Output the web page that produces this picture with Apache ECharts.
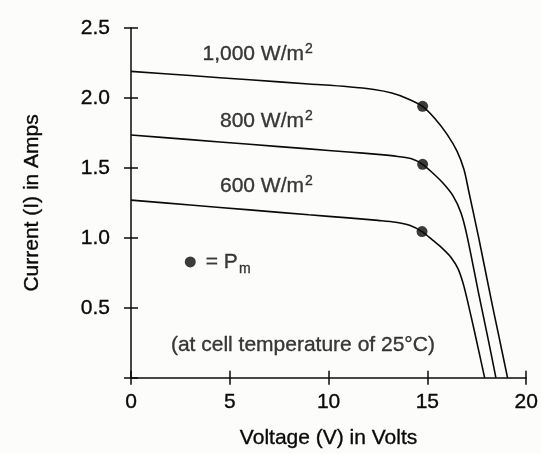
<!DOCTYPE html>
<html>
<head>
<meta charset="utf-8">
<script src="https://cdn.jsdelivr.net/npm/echarts@6/dist/echarts.min.js"></script>
<style>
html,body{margin:0;padding:0;background:#fcfcfb;}
#chart{width:541px;height:454px;}
</style>
</head>
<body>
<div id="chart"></div>
<script>
// ---- data ----
var xTicks = [0, 5, 10, 15, 20];
var yTicks = [0.5, 1.0, 1.5, 2.0, 2.5];

var v1000 = [0, 3, 6, 9, 11, 12.3, 13.2, 14.0, 14.76, 15.4, 16.0, 16.5, 16.85, 17.1, 17.6, 18.2, 18.6, 19.06];
var i1000 = [2.19, 2.16, 2.13, 2.10, 2.08, 2.06, 2.035, 1.995, 1.94, 1.85, 1.74, 1.62, 1.49, 1.33, 1.0, 0.58, 0.31, 0];

var v800 = [0, 3, 6, 9, 11, 12.5, 13.5, 14.2, 14.76, 15.3, 15.8, 16.3, 16.7, 17.0, 17.6, 18.1, 18.47];
var i800 = [1.735, 1.702, 1.669, 1.636, 1.614, 1.597, 1.582, 1.565, 1.526, 1.46, 1.39, 1.30, 1.18, 1.02, 0.6, 0.26, 0];

var v600 = [0, 3, 6, 9, 11, 12.5, 13.4, 14.1, 14.73, 15.3, 15.8, 16.2, 16.55, 16.8, 17.0, 17.45, 17.9];
var i600 = [1.27, 1.235, 1.20, 1.165, 1.143, 1.125, 1.112, 1.09, 1.045, 0.98, 0.92, 0.86, 0.78, 0.68, 0.57, 0.29, 0];

var pmV = [14.76, 14.76, 14.73];
var pmI = [1.94, 1.526, 1.045];

var curveLabels = ['1,000 W/m{sup|2}', '800 W/m{sup|2}', '600 W/m{sup|2}'];
var curveLabelV = [9.2, 9.2, 9.2];
var curveLabelI = [2.316, 1.835, 1.367];

var legendText = '= P{sub|m}';
var legendV = [3.0];
var legendI = [0.828];

var noteText = '(at cell temperature of 25°C)';
var noteV = [8.7];
var noteI = [0.23];

// ---- chart ----
function zip(a, b) { return a.map(function (x, k) { return [x, b[k]]; }); }

var FONT = '"Liberation Sans", Arial, Helvetica, sans-serif';
var INK = '#0a0a0a';
var THICK = {textBorderColor: INK, textBorderWidth: 0.35};

var chart = echarts.init(document.getElementById('chart'), null, {renderer: 'canvas'});

var axisCommon = {
  type: 'value',
  splitLine: {show: false},
  axisLine: {show: true, lineStyle: {color: INK, width: 1.5}},
  axisTick: {show: true, length: 7, lineStyle: {color: INK, width: 1.5}},
  axisLabel: Object.assign({color: INK, fontSize: 21, fontFamily: FONT}, THICK)
};

function curveSeries(v, i) {
  return {
    type: 'line',
    data: zip(v, i),
    showSymbol: false,
    smooth: 0.3,
    lineStyle: {color: INK, width: 1.6},
    silent: true,
    z: 3
  };
}

var labelData = curveLabels.map(function (t, k) {
  return {value: [curveLabelV[k], curveLabelI[k]], label: {formatter: t}};
});

var option = {
  animation: false,
  backgroundColor: '#fcfcfb',
  grid: {left: 131, right: 14, top: 28, bottom: 74, containLabel: false},
  xAxis: [
    Object.assign({}, axisCommon, {
      min: 0, max: 20, interval: 5,
      axisLabel: Object.assign({}, axisCommon.axisLabel, {margin: 14}),
      name: 'Voltage (V) in Volts',
      nameLocation: 'middle',
      nameGap: 50,
      nameTextStyle: Object.assign({color: INK, fontSize: 21, fontFamily: FONT}, THICK)
    }),
    {
      type: 'value', min: 0, max: 20, interval: 5, position: 'bottom',
      splitLine: {show: false}, axisLine: {show: false}, axisLabel: {show: false},
      axisTick: {show: true, inside: true, length: 7, lineStyle: {color: INK, width: 1.5}}
    }
  ],
  yAxis: [
    Object.assign({}, axisCommon, {
      min: 0, max: 2.5, interval: 0.5,
      axisLabel: Object.assign({}, axisCommon.axisLabel, {
        margin: 21,
        formatter: function (v) { return v === 0 ? '' : v.toFixed(1); }
      }),
      name: 'Current (I) in Amps',
      nameLocation: 'middle',
      nameGap: 88,
      nameRotate: 90,
      nameTextStyle: Object.assign({color: INK, fontSize: 21, fontFamily: FONT}, THICK)
    }),
    {
      type: 'value', min: 0, max: 2.5, interval: 0.5, position: 'left',
      splitLine: {show: false}, axisLine: {show: false}, axisLabel: {show: false},
      axisTick: {show: true, inside: true, length: 7, lineStyle: {color: INK, width: 1.5}}
    }
  ],
  series: [
    curveSeries(v1000, i1000),
    curveSeries(v800, i800),
    curveSeries(v600, i600),
    {
      type: 'scatter',
      data: zip(pmV, pmI),
      symbol: 'circle',
      symbolSize: 11,
      itemStyle: {color: INK},
      silent: true,
      z: 5
    },
    {
      type: 'scatter',
      data: labelData,
      symbolSize: 0,
      silent: true,
      label: Object.assign({
        show: true, position: 'left', distance: 0,
        color: INK, fontSize: 21, fontFamily: FONT, lineHeight: 24,
        rich: {
          sup: Object.assign({fontSize: 14, fontFamily: FONT, color: INK, verticalAlign: 'top', lineHeight: 12, padding: [0, 0, 0, 1]}, THICK)
        }
      }, THICK)
    },
    {
      type: 'scatter',
      data: zip(legendV, legendI),
      symbol: 'circle',
      symbolSize: 11,
      itemStyle: {color: INK},
      silent: true,
      label: Object.assign({
        show: true, position: 'right', distance: 10,
        formatter: legendText,
        color: INK, fontSize: 21, fontFamily: FONT, lineHeight: 24,
        rich: {
          sub: Object.assign({fontSize: 14, fontFamily: FONT, color: INK, verticalAlign: 'bottom', lineHeight: 14, padding: [0, 0, -2, 1]}, THICK)
        }
      }, THICK)
    },
    {
      type: 'scatter',
      data: zip(noteV, noteI),
      symbolSize: 0,
      silent: true,
      label: Object.assign({
        show: true, position: 'inside',
        formatter: noteText,
        color: INK, fontSize: 21, fontFamily: FONT
      }, THICK)
    }
  ]
};

chart.setOption(option);
</script>
</body>
</html>
